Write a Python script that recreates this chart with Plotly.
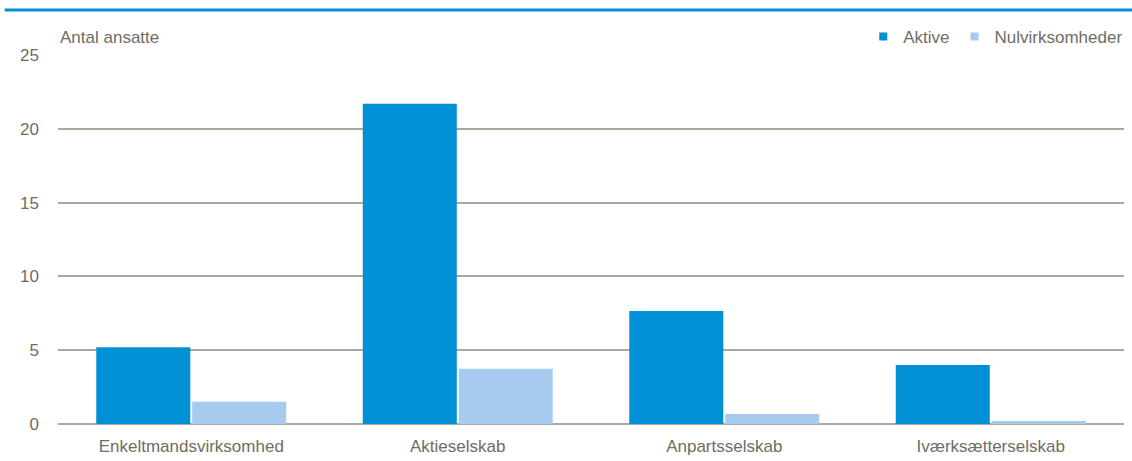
import plotly.graph_objects as go

categories = ["Enkeltmandsvirksomhed", "Aktieselskab", "Anpartsselskab", "Iværksætterselskab"]
aktive = [5.2, 21.7, 7.65, 4.0]
nul = [1.5, 3.75, 0.68, 0.2]
y_ticks = [0, 5, 10, 15, 20, 25]

font_family = "Liberation Sans Narrow, Arial Narrow, Liberation Sans, Arial"
text_color = "#6e6d63"
grid_color = "#aaa89c"
c_akt = "#0090d5"
c_nul = "#a6cbee"

fig = go.Figure()
fig.add_trace(go.Bar(name="Aktive", x=categories, y=aktive, marker_color=c_akt,
                     marker_line_width=0, showlegend=False))
fig.add_trace(go.Bar(name="Nulvirksomheder", x=categories, y=nul, marker_color=c_nul,
                     marker_line_width=0, showlegend=False))
# legend entries with small square markers
for name, col in [("Aktive", c_akt), ("Nulvirksomheder", c_nul)]:
    fig.add_trace(go.Scatter(name=name, x=[None], y=[None], mode="markers",
                             marker=dict(symbol="square", size=8, color=col)))

fig.update_layout(
    width=1132, height=461,
    margin=dict(l=58, r=8, t=55, b=37, autoexpand=False),
    plot_bgcolor="white", paper_bgcolor="white",
    barmode="group", bargap=0.28, bargroupgap=0.02,
    font=dict(family=font_family, size=17, color=text_color),
    showlegend=True,
    legend=dict(orientation="h", x=1.004, xanchor="right", y=1.0, yanchor="bottom",
                font=dict(size=17, color=text_color), itemwidth=30,
                bgcolor="rgba(0,0,0,0)", traceorder="normal"),
    xaxis=dict(showgrid=False, showline=False, ticks="", tickfont=dict(size=17),
               ticklabelstandoff=10, automargin=False),
    yaxis=dict(range=[0, 25], tickvals=y_ticks, showgrid=True, gridcolor=grid_color,
               gridwidth=2, zeroline=True, zerolinecolor=grid_color, zerolinewidth=2,
               showline=False, ticks="", ticklabelstandoff=18, tickfont=dict(size=17),
               automargin=False),
    annotations=[dict(text="Antal ansatte", xref="paper", yref="paper", x=0.0, y=1.0,
                      xanchor="left", yanchor="bottom", showarrow=False,
                      font=dict(size=17, color=text_color), yshift=6)],
    shapes=[dict(type="line", xref="paper", yref="paper", x0=-0.05, x1=1.01,
                 y0=1.122, y1=1.122, line=dict(color=c_akt, width=3))],
)

fig.write_html("out.html", config={"displayModeBar": False},
               post_script="document.body.style.margin='0';")
